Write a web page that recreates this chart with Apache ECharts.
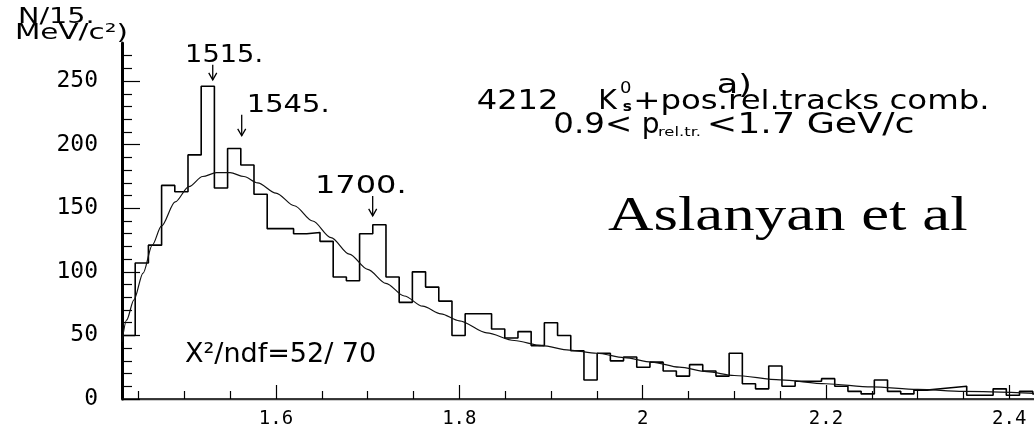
<!DOCTYPE html>
<html><head><meta charset="utf-8">
<script src="https://cdn.jsdelivr.net/npm/echarts@6/dist/echarts.min.js"></script>
<style>html,body{margin:0;padding:0;background:#fff;}#c{width:1034px;height:429px;}</style>
</head><body><div id="c"></div>
<script>
// ---- data ----
const binStart = 1.432;      // left edge of first bin (axis units)
const binWidth = 0.0144;     // bin width as drawn against the axis
const counts = [
  50,107,121,168,163,192,246,166,197,184,
  161,134,134,130,131,124,96,93,130,137,
  96,76,100,88,77,50,67,67,55,48,
  53,42,60,50,38,15,36,30,33,25,
  29,22,18,27,22,18,36,12,8,26,
  10,14,14,16,10,6,4,15,6,4,
  7,8,9,10,3,3,8,3,6,4
];
const fitX = [1.432,1.437,1.445,1.455,1.465,1.475,1.49,1.505,1.52,1.535,1.55,1.565,1.58,1.60,1.62,1.64,1.66,1.68,1.70,1.72,1.74,1.76,1.78,1.80,1.83,1.86,1.89,1.92,1.95,1.98,2.01,2.04,2.07,2.10,2.15,2.20,2.25,2.30,2.35,2.427];
const fitY = [45,62,78,99,121,136,155,167,175,178,178,175,170,162,152,140,127,114,102,91,81,73,67,61.5,52,46,42,38.5,36,32.5,29,25,21.5,18.5,15,12,9.5,7.5,6,4.5];
const xMajorTicks = [1.6,1.8,2.0,2.2,2.4];
const xTickLabels = ['1.6','1.8','2','2.2','2.4'];
const xMinorTicks = [1.45,1.5,1.55,1.65,1.7,1.75,1.85,1.9,1.95,2.05,2.1,2.15,2.25,2.3,2.35];
const yMajorTicks = [0,50,100,150,200,250];
const yTickLabels = ['0','50','100','150','200','250'];
const yMinorTicks = [10,20,30,40,60,70,80,90,110,120,130,140,160,170,180,190,210,220,230,240,260,270];
const peakLabels = ['1515.','1545.','1700.'];
const peakX = [1.531,1.5626,1.7055];
const peakTipY = [251,207,144];

// ---- chart ----
const xMin = 1.432, xMax = 2.427, yMin = 0, yMax = 280;
const histData = counts.map((c,i)=>[binStart+i*binWidth, c]);
histData.push([binStart+counts.length*binWidth, counts[counts.length-1]]);
const fitData = fitX.map((x,i)=>[x, fitY[i]]);

const chart = echarts.init(document.getElementById('c'), null, {renderer:'canvas'});
const mono = 'DejaVu Sans Mono';
const option = {
  animation:false,
  backgroundColor:'#fff',
  grid:{left:122,right:0,top:43,bottom:29,containLabel:false},
  xAxis:[
    {type:'value',min:xMin,max:xMax,position:'bottom',
     axisLine:{show:true,onZero:false,lineStyle:{color:'#000',width:1.5}},
     axisTick:{show:true,inside:true,length:14,customValues:xMajorTicks,lineStyle:{color:'#000',width:1.2}},
     axisLabel:{show:true,customValues:xMajorTicks,margin:11,color:'#000',fontFamily:mono,fontSize:19,
       formatter:v=>{const k=xMajorTicks.findIndex(t=>Math.abs(t-v)<1e-6);return k>=0?xTickLabels[k]:'';}},
     splitLine:{show:false}},
    {type:'value',min:xMin,max:xMax,position:'bottom',
     axisLine:{show:false},
     axisTick:{show:true,inside:true,length:8,customValues:xMinorTicks,lineStyle:{color:'#000',width:1.2}},
     axisLabel:{show:false},splitLine:{show:false}},
    {type:'value',min:xMin,max:xMax,position:'top',
     axisLine:{show:true,lineStyle:{color:'#333',width:1.3}},
     axisTick:{show:false},axisLabel:{show:false},splitLine:{show:false}}
  ],
  yAxis:[
    {type:'value',min:yMin,max:yMax,position:'left',
     axisLine:{show:true,onZero:false,lineStyle:{color:'#000',width:3}},
     axisTick:{show:true,inside:true,length:18,customValues:yMajorTicks,lineStyle:{color:'#000',width:1.2}},
     axisLabel:{show:true,customValues:yMajorTicks,margin:24,color:'#000',fontFamily:mono,fontSize:23,
       formatter:v=>{const k=yMajorTicks.indexOf(v);return k>=0?yTickLabels[k]:'';}},
     splitLine:{show:false}},
    {type:'value',min:yMin,max:yMax,position:'left',
     axisLine:{show:false},
     axisTick:{show:true,inside:true,length:10,customValues:yMinorTicks,lineStyle:{color:'#000',width:1.2}},
     axisLabel:{show:false},splitLine:{show:false}}
  ],
  series:[
    {type:'line',name:'hist',xAxisIndex:0,yAxisIndex:0,step:'end',data:histData,symbol:'none',
     lineStyle:{color:'#000',width:1.6},clip:true,z:3},
    {type:'line',name:'fit',xAxisIndex:0,yAxisIndex:0,data:fitData,symbol:'none',smooth:0.3,smoothMonotone:'x',
     lineStyle:{color:'#111',width:1.2},clip:true,z:4}
  ]
};
chart.setOption(option);

// ---- annotations ----
const sans = 'DejaVu Sans';
function T(text,left,cy,size,sx,family,weight){
  return {type:'text',x:left,y:cy,scaleX:sx,scaleY:1,originX:0,originY:0,silent:true,z:20,
    style:{text:text,font:(weight||'normal')+' '+size+'px "'+(family||sans)+'"',fill:'#000',
           align:'left',verticalAlign:'middle',textAlign:'left',textVerticalAlign:'middle'}};
}
const g = [];
g.push(T('N/15.',18,17,22,1.3));
g.push(T('MeV/c\u00B2)',15,34,21,1.4));
const labelDx = [-27.7,5,-57.7];
const labelSx = [1.09,1.16,1.28];
const arrowLen = [15,21,20];
peakLabels.forEach((lab,i)=>{
  const p = chart.convertToPixel({xAxisIndex:0,yAxisIndex:0},[peakX[i],peakTipY[i]]);
  const tipX=p[0], tipY=p[1], topY=tipY-arrowLen[i];
  g.push({type:'polyline',silent:true,z:20,shape:{points:[[tipX,topY],[tipX,tipY]]},style:{stroke:'#000',lineWidth:1.3,fill:null}});
  g.push({type:'polyline',silent:true,z:20,shape:{points:[[tipX-4,tipY-7],[tipX,tipY],[tipX+4,tipY-7]]},style:{stroke:'#000',lineWidth:1.3,fill:null}});
  g.push(T(lab,tipX+labelDx[i],topY-9.5,25,labelSx[i]));
});
g.push(T('a)',716.7,86,26,1.35));
g.push(T('4212',476.7,101.7,27,1.19));
g.push(T('K',598.3,101.5,27,1.05));
g.push(T('0',620,89,15,1.2));
g.push(T('s',622.7,107.5,14,1.1,sans,'bold'));
g.push(T('+pos.rel.tracks comb.',633.3,101.7,27,1.2));
g.push(T('0.9<',553.3,126,28,1.16));
g.push(T('p',641.7,126,28,1.0));
g.push(T('rel.tr.',658,132.5,13,1.26));
g.push(T('<1.7 GeV/c',706.7,126,28,1.3));
g.push(T('X\u00B2/ndf=52/ 70',185,355,27,1.0));
g.push(T('Aslanyan et al',608,217.5,48,1.31,'Liberation Serif'));
chart.setOption({graphic:{elements:g}});
</script></body></html>
